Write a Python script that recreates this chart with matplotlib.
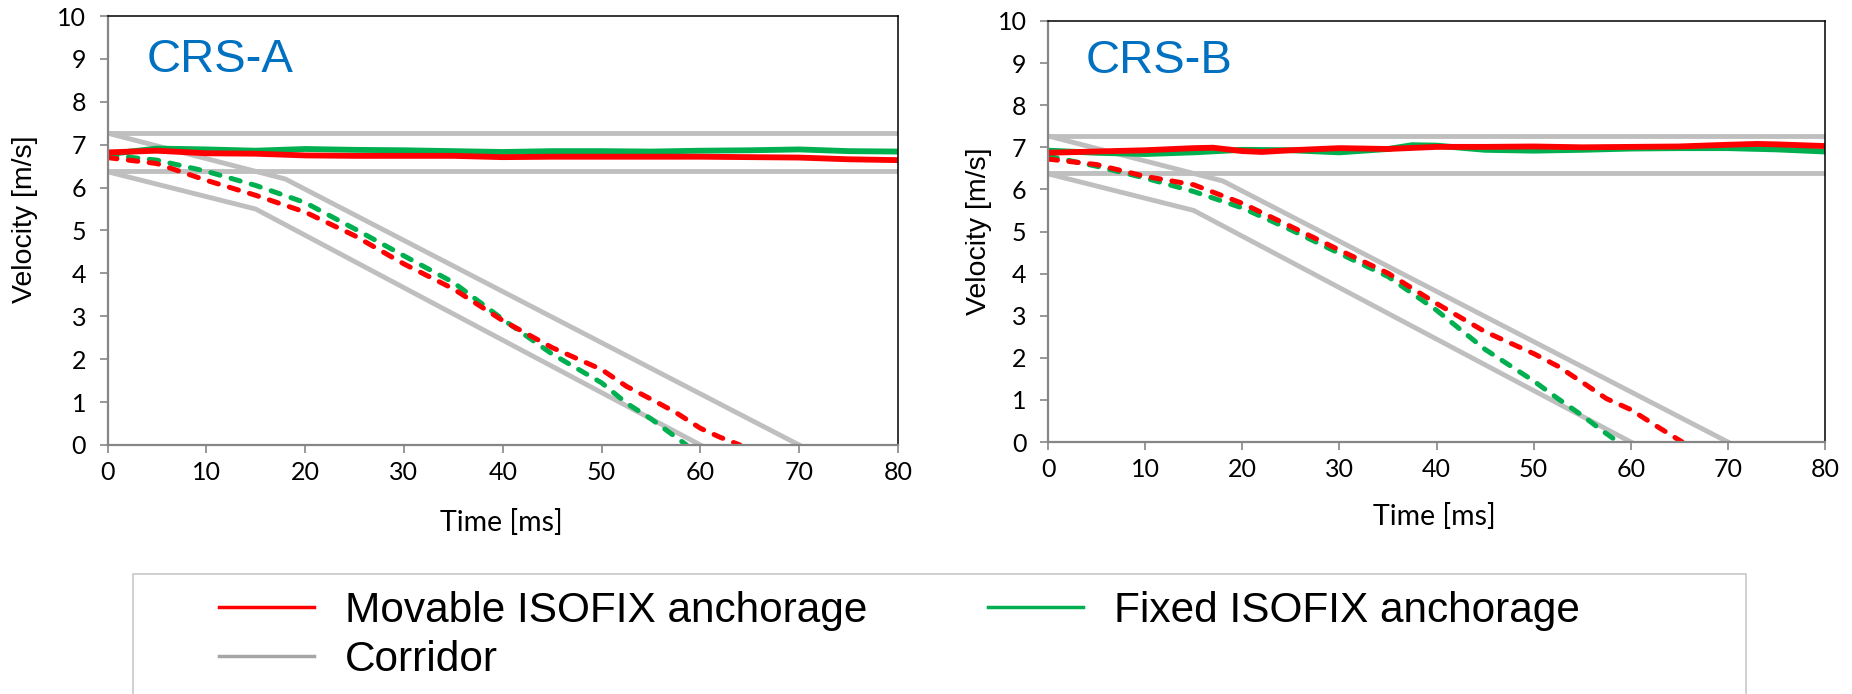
import numpy as np
import matplotlib
matplotlib.use("Agg")
import matplotlib.pyplot as plt
from matplotlib.patches import Rectangle
from matplotlib.lines import Line2D

# ---- data ----
corr_hi = 7.27
corr_lo = 6.39
corr_upper_t = [0, 18, 70]
corr_upper_v = [7.27, 6.20, 0.0]
corr_lower_t = [0, 15, 60]
corr_lower_v = [6.37, 5.50, 0.0]

t_solid = [0, 5, 10, 15, 20, 25, 30, 35, 40, 45, 50, 55, 60, 65, 70, 75, 80]
a_mov_solid = [6.82, 6.86, 6.80, 6.79, 6.75, 6.74, 6.74, 6.74, 6.71, 6.72, 6.72, 6.72, 6.72, 6.71, 6.70, 6.66, 6.64]
a_fix_solid = [6.78, 6.91, 6.89, 6.86, 6.90, 6.88, 6.87, 6.85, 6.83, 6.85, 6.85, 6.84, 6.86, 6.87, 6.89, 6.85, 6.84]

a_mov_dash_t = [0, 5, 10, 15, 20, 25, 30, 35, 40, 45, 50, 52.5, 55, 57.5, 60, 62, 64]
a_mov_dash_v = [6.70, 6.56, 6.17, 5.82, 5.43, 4.88, 4.22, 3.64, 2.90, 2.27, 1.76, 1.37, 1.07, 0.76, 0.39, 0.18, 0.0]
a_fix_dash_t = [0, 5, 10, 15, 20, 25, 30, 35, 40, 45, 50, 52.5, 55, 57, 58.6]
a_fix_dash_v = [6.76, 6.64, 6.38, 6.05, 5.65, 5.04, 4.41, 3.79, 2.93, 2.12, 1.45, 0.98, 0.61, 0.27, 0.0]

b_mov_solid_t = [0, 5, 10, 15, 17, 20, 22, 25, 30, 35, 40, 45, 50, 55, 60, 65, 70, 73, 75, 80]
b_mov_solid_v = [6.87, 6.90, 6.93, 6.98, 6.99, 6.91, 6.89, 6.93, 6.98, 6.96, 7.01, 7.01, 7.02, 7.00, 7.01, 7.02, 7.06, 7.08, 7.07, 7.03]
b_fix_solid_t = [0, 5, 10, 15, 20, 25, 30, 35, 37.5, 40, 45, 50, 55, 60, 65, 70, 75, 80]
b_fix_solid_v = [6.92, 6.87, 6.84, 6.88, 6.94, 6.93, 6.88, 6.96, 7.05, 7.04, 6.94, 6.92, 6.94, 6.97, 6.98, 6.98, 6.95, 6.90]

b_mov_dash_t = [0, 5, 10, 15, 20, 25, 30, 35, 40, 45, 50, 52.5, 55, 57.5, 60, 62.5, 65.3]
b_mov_dash_v = [6.72, 6.59, 6.31, 6.11, 5.67, 5.12, 4.56, 4.01, 3.29, 2.62, 2.10, 1.80, 1.42, 1.03, 0.77, 0.40, 0.0]
b_fix_dash_t = [0, 5, 10, 15, 20, 25, 30, 35, 40, 45, 50, 52.5, 55, 57, 58.7]
b_fix_dash_v = [6.79, 6.55, 6.27, 5.95, 5.56, 5.04, 4.48, 3.93, 3.13, 2.20, 1.45, 1.03, 0.63, 0.28, 0.0]

panels = ["CRS-A", "CRS-B"]
legend_labels = ["Movable ISOFIX anchorage", "Fixed ISOFIX anchorage", "Corridor"]

RED = "#FF0000"
GREEN = "#00B050"
GRAY = "#BFBFBF"
AXGRAY = "#868686"

# tick labels in a Calibri-like face
plt.rcParams["font.family"] = ["Lato", "DejaVu Sans"]
plt.rcParams["xtick.labelsize"] = 18
plt.rcParams["ytick.labelsize"] = 18

W, H = 1852, 694
fig = plt.figure(figsize=(W / 100, H / 100), dpi=100)

ax1 = fig.add_axes([107.5 / W, 1 - 445 / H, 790.5 / W, 429 / H])
ax2 = fig.add_axes([1048 / W, 1 - 442 / H, 777 / W, 421 / H])

data = [
    (ax1, t_solid, a_mov_solid, t_solid, a_fix_solid, a_mov_dash_t, a_mov_dash_v, a_fix_dash_t, a_fix_dash_v),
    (ax2, b_mov_solid_t, b_mov_solid_v, b_fix_solid_t, b_fix_solid_v, b_mov_dash_t, b_mov_dash_v, b_fix_dash_t, b_fix_dash_v),
]

dash = (1.9, 2.3)
for i, (ax, mst, msv, fst, fsv, mdt, mdv, fdt, fdv) in enumerate(data):
    # corridor
    ax.plot([0, 80], [corr_hi, corr_hi], color=GRAY, lw=3.5, solid_capstyle="butt")
    ax.plot([0, 80], [corr_lo, corr_lo], color=GRAY, lw=3.5, solid_capstyle="butt")
    ax.plot(corr_upper_t, corr_upper_v, color=GRAY, lw=3.5)
    ax.plot(corr_lower_t, corr_lower_v, color=GRAY, lw=3.5)
    # fixed (green)
    ax.plot(fst, fsv, color=GREEN, lw=4.2)
    ax.plot(fdt, fdv, color=GREEN, lw=3.6, dashes=dash, dash_capstyle="round")
    # movable (red)
    ax.plot(mst, msv, color=RED, lw=4.2)
    ax.plot(mdt, mdv, color=RED, lw=3.6, dashes=dash, dash_capstyle="round")

    ax.set_xlim(0, 80)
    ax.set_ylim(0, 10)
    ax.set_xticks(np.arange(0, 81, 10))
    ax.set_yticks(np.arange(0, 11, 1))
    for s in ["top", "right"]:
        ax.spines[s].set_color("black")
        ax.spines[s].set_linewidth(1.1)
    for s in ["left", "bottom"]:
        ax.spines[s].set_color(AXGRAY)
        ax.spines[s].set_linewidth(1.6)
    ax.tick_params(axis="both", direction="out", length=5.5, width=1.2, color=AXGRAY,
                   labelcolor="black")
    ax.tick_params(axis="y", pad=10)
    ax.tick_params(axis="x", pad=6)
    ax.text(0.049, 0.87 if i == 0 else 0.876, panels[i], transform=ax.transAxes,
            fontsize=34, color="#0070C0", family="Liberation Sans", va="baseline", ha="left")

# axis titles
fig.text(25 / W, 1 - 219 / H, "Velocity [m/s]", rotation=90, ha="center", va="center",
         fontsize=20.5, family="Liberation Sans")
fig.text(979 / W, 1 - 231 / H, "Velocity [m/s]", rotation=90, ha="center", va="center",
         fontsize=20.5, family="Liberation Sans")
fig.text(501 / W, 1 - 531 / H, "Time [ms]", ha="center", va="baseline", fontsize=20.5, family="Lato")
fig.text(1434 / W, 1 - 525 / H, "Time [ms]", ha="center", va="baseline", fontsize=20.5, family="Lato")

# legend frame
fig.patches.append(Rectangle((133 / W, -0.2), (1746 - 133) / W, 0.2 + (1 - 574 / H),
                             transform=fig.transFigure, facecolor="none",
                             edgecolor="#C8C8C8", lw=1.2, zorder=0))
handles = [
    Line2D([], [], color=RED, lw=2.5),
    Line2D([], [], color="#A6A6A6", lw=2.5),
    Line2D([], [], color=GREEN, lw=2.5),
]
labels = [legend_labels[0], legend_labels[2], legend_labels[1]]
fig.legend(handles, labels, loc="upper left", bbox_to_anchor=(219 / W, 1 - 591 / H),
           ncol=2, frameon=False, borderpad=0, borderaxespad=0,
           handlelength=2.25, handletextpad=0.72, columnspacing=2.85, labelspacing=0.22,
           prop={"family": "Liberation Sans", "size": 30.5})

fig.savefig("out.png", dpi=100)
